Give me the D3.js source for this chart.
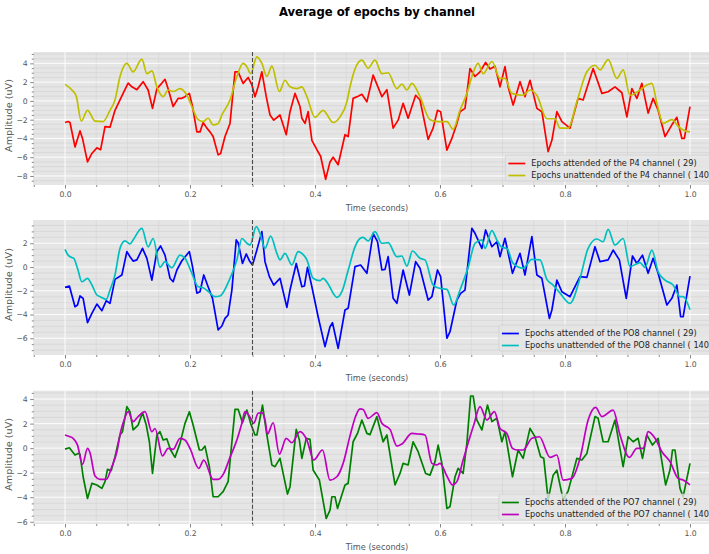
<!DOCTYPE html>
<html>
<head>
<meta charset="utf-8">
<script src="https://cdn.jsdelivr.net/npm/d3@7/dist/d3.min.js"></script>
<style>
  html, body { margin: 0; padding: 0; background: #fff; }
  svg { display: block; font-family: "DejaVu Sans", sans-serif; }
</style>
</head>
<body>
<svg id="chart" width="709" height="554"></svg>
<script>
// Averaged ERP epochs, [time (s), amplitude (uV)]
const p4Attended = [[0,-2.3],[0.005,-2.2],[0.008,-2.3],[0.016,-4.9],[0.024,-3.2],[0.028,-4.0],[0.036,-6.5],[0.043,-5.6],[0.051,-5.0],[0.057,-5.2],[0.064,-2.75],[0.072,-2.8],[0.08,-1.0],[0.088,0.1],[0.093,0.8],[0.101,1.9],[0.107,1.5],[0.115,1.2],[0.125,2.05],[0.133,1.16],[0.14,-0.8],[0.147,1.3],[0.155,1.9],[0.16,2.3],[0.165,1.3],[0.173,-0.6],[0.181,0.27],[0.187,0.27],[0.192,0.45],[0.199,0.8],[0.204,-0.6],[0.211,-3.3],[0.216,-3.3],[0.221,-2.3],[0.227,-2.9],[0.232,-3.3],[0.237,-3.8],[0.245,-5.75],[0.249,-5.6],[0.256,-3.8],[0.264,-2.4],[0.272,3.1],[0.277,3.1],[0.285,1.87],[0.293,2.5],[0.299,1.7],[0.304,0.45],[0.309,1.5],[0.315,3.1],[0.322,0.45],[0.328,-1.5],[0.334,-2.05],[0.344,-1.5],[0.354,-3.6],[0.36,-1.15],[0.368,0.8],[0.376,-0.6],[0.379,-1.85],[0.384,-2.4],[0.389,-1.15],[0.395,-4.2],[0.403,-5.2],[0.409,-5.9],[0.417,-8.35],[0.424,-6.5],[0.429,-6.0],[0.437,-6.8],[0.448,-3.6],[0.453,-3.8],[0.461,0.27],[0.469,0.5],[0.475,0.7],[0.483,-0.1],[0.493,2.75],[0.507,0.45],[0.515,1.2],[0.525,-2.9],[0.533,-2.05],[0.541,-0.25],[0.549,-1.85],[0.561,0.6],[0.568,0.1],[0.581,-4.1],[0.589,-2.9],[0.596,-1.0],[0.601,-1.15],[0.611,-5.25],[0.619,-4.0],[0.627,-2.4],[0.632,-1.15],[0.64,-0.8],[0.648,3.45],[0.656,2.6],[0.664,3.1],[0.673,4.1],[0.68,3.4],[0.688,3.7],[0.696,1.5],[0.704,3.65],[0.709,1.5],[0.717,-0.45],[0.728,2.05],[0.736,0.45],[0.744,2.2],[0.755,-0.8],[0.763,-1.15],[0.773,-5.4],[0.779,-4.2],[0.787,-1.15],[0.795,-2.2],[0.808,-2.9],[0.821,0.27],[0.829,0.1],[0.845,3.45],[0.859,0.8],[0.869,0.98],[0.88,1.5],[0.891,0.87],[0.899,-1.7],[0.907,1.3],[0.915,0.27],[0.923,1.87],[0.933,-1.3],[0.941,0.27],[0.949,-1.0],[0.96,-3.8],[0.971,-2.55],[0.979,-1.75],[0.987,-4.0],[0.991,-4.0],[1.0,-0.6]];

const p4Unattended = [[0,1.76],[0.011,1.16],[0.018,0.5],[0.026,-2.15],[0.036,-1.0],[0.048,-2.15],[0.061,-2.2],[0.072,-1.0],[0.08,0.1],[0.088,2.6],[0.099,4.0],[0.109,3.1],[0.123,4.45],[0.131,2.9],[0.139,3.2],[0.147,1.5],[0.157,0.45],[0.165,1.16],[0.173,1.0],[0.184,1.3],[0.195,0.6],[0.203,-0.6],[0.213,-2.0],[0.221,-2.2],[0.229,-1.85],[0.237,-2.55],[0.245,-2.4],[0.251,-1.5],[0.264,0.1],[0.275,2.6],[0.285,4.0],[0.291,3.65],[0.297,2.9],[0.307,4.7],[0.315,4.0],[0.323,2.6],[0.331,3.7],[0.343,1.0],[0.352,2.2],[0.36,1.5],[0.371,1.3],[0.379,1.5],[0.387,0.45],[0.4,-1.75],[0.413,-1.0],[0.429,-2.3],[0.44,-1.7],[0.451,-0.1],[0.456,1.5],[0.464,3.4],[0.475,4.35],[0.485,3.5],[0.496,4.35],[0.507,2.9],[0.517,3.0],[0.531,1.3],[0.539,1.8],[0.547,1.16],[0.555,1.87],[0.568,0.45],[0.584,-2.0],[0.597,-2.2],[0.611,-2.2],[0.621,-3.0],[0.632,-1.0],[0.643,0.8],[0.652,2.8],[0.661,4.0],[0.669,2.9],[0.683,4.2],[0.696,2.4],[0.704,2.4],[0.715,0.8],[0.733,0.6],[0.744,1.16],[0.755,0.6],[0.771,-1.9],[0.784,-1.9],[0.792,-2.9],[0.805,-2.9],[0.819,-0.1],[0.835,3.1],[0.848,3.8],[0.856,3.3],[0.869,4.4],[0.883,2.4],[0.893,3.3],[0.904,0.6],[0.92,1.16],[0.931,1.7],[0.939,1.87],[0.947,-0.25],[0.957,-2.4],[0.971,-2.0],[0.981,-2.7],[0.989,-3.1],[1.0,-3.3]];

const po8Attended = [[0,-1.71],[0.007,-1.6],[0.016,-3.34],[0.02,-3.2],[0.024,-2.44],[0.029,-2.64],[0.036,-4.69],[0.043,-3.9],[0.051,-3.12],[0.059,-3.68],[0.066,-2.84],[0.072,-3.06],[0.08,-1.04],[0.091,-0.67],[0.099,1.3],[0.104,0.87],[0.109,0.5],[0.115,0.6],[0.124,1.57],[0.131,0.73],[0.139,-1.1],[0.147,1.3],[0.153,1.77],[0.16,1.0],[0.168,-0.95],[0.173,-1.24],[0.179,-0.25],[0.187,0.53],[0.199,1.3],[0.204,0.03],[0.211,-2.2],[0.216,-2.08],[0.222,-0.67],[0.229,-1.66],[0.236,-2.64],[0.245,-5.3],[0.251,-4.97],[0.256,-4.33],[0.261,-4.04],[0.267,-1.94],[0.274,2.28],[0.277,2.05],[0.284,0.3],[0.29,1.1],[0.295,0.53],[0.3,0.17],[0.307,1.43],[0.315,2.98],[0.32,0.45],[0.327,-0.81],[0.334,-1.52],[0.344,-0.95],[0.355,-3.4],[0.36,-1.94],[0.37,0.3],[0.379,-1.66],[0.383,-1.6],[0.388,-0.03],[0.395,-1.66],[0.405,-4.19],[0.416,-6.7],[0.424,-5.03],[0.428,-4.69],[0.437,-6.85],[0.448,-3.62],[0.453,-3.48],[0.464,0.03],[0.473,0.17],[0.483,-0.53],[0.493,2.84],[0.5,2.13],[0.507,-0.25],[0.512,-0.2],[0.517,0.87],[0.525,-2.64],[0.531,-3.06],[0.541,-0.25],[0.551,-2.36],[0.561,0.45],[0.568,-0.1],[0.581,-2.78],[0.587,-2.5],[0.596,-0.25],[0.601,-0.81],[0.611,-6.0],[0.616,-5.45],[0.627,-2.78],[0.633,-2.22],[0.64,-1.94],[0.651,3.26],[0.656,2.84],[0.667,1.57],[0.673,3.12],[0.683,1.71],[0.691,2.13],[0.696,0.87],[0.704,2.42],[0.716,-0.53],[0.728,1.15],[0.736,-0.67],[0.747,2.56],[0.755,-0.67],[0.763,-0.95],[0.775,-4.33],[0.779,-3.62],[0.787,-1.1],[0.795,-2.08],[0.808,-2.5],[0.824,-0.81],[0.835,-0.87],[0.848,1.71],[0.856,0.45],[0.869,0.6],[0.877,1.43],[0.887,0.6],[0.898,-2.64],[0.908,0.93],[0.915,0.3],[0.924,1.0],[0.933,-0.53],[0.941,0.73],[0.949,-0.53],[0.963,-3.2],[0.971,-2.64],[0.979,-1.52],[0.985,-4.19],[0.989,-4.19],[1.0,-0.76]];

const po8Unattended = [[0,1.49],[0.005,1.0],[0.011,0.8],[0.014,0.73],[0.02,-0.1],[0.027,-1.24],[0.036,-0.95],[0.043,-1.5],[0.051,-2.36],[0.056,-2.5],[0.066,-2.72],[0.072,-1.94],[0.08,-0.67],[0.088,1.57],[0.096,2.2],[0.104,1.94],[0.109,2.28],[0.123,3.26],[0.133,1.7],[0.141,2.4],[0.152,-0.03],[0.16,0.45],[0.171,-0.06],[0.184,1.0],[0.192,0.73],[0.203,-0.53],[0.213,-1.66],[0.221,-1.74],[0.232,-2.2],[0.24,-2.5],[0.248,-2.44],[0.264,-0.95],[0.275,0.6],[0.283,2.4],[0.291,2.0],[0.296,1.85],[0.306,3.4],[0.312,2.84],[0.32,1.57],[0.329,2.6],[0.339,1.15],[0.344,0.6],[0.352,1.15],[0.363,0.17],[0.373,1.3],[0.379,1.15],[0.387,0.6],[0.397,-0.95],[0.408,-1.15],[0.413,-0.95],[0.421,-1.43],[0.429,-2.2],[0.435,-2.56],[0.443,-2.08],[0.453,-0.3],[0.464,1.7],[0.472,2.4],[0.477,2.5],[0.485,2.2],[0.496,2.98],[0.507,2.0],[0.517,2.05],[0.531,0.87],[0.539,0.93],[0.547,0.08],[0.556,1.35],[0.568,0.73],[0.576,0.6],[0.589,-1.52],[0.6,-1.8],[0.611,-1.88],[0.622,-3.2],[0.632,-1.94],[0.645,-0.03],[0.656,2.0],[0.667,2.28],[0.672,1.57],[0.683,3.06],[0.691,2.28],[0.699,1.66],[0.707,1.57],[0.717,0.3],[0.733,-0.1],[0.747,0.65],[0.76,0.6],[0.771,-1.04],[0.781,-1.52],[0.792,-2.2],[0.808,-3.06],[0.824,-0.95],[0.837,1.57],[0.851,2.36],[0.861,2.13],[0.869,3.17],[0.88,1.85],[0.893,2.4],[0.904,0.03],[0.92,0.37],[0.928,-0.03],[0.939,1.43],[0.949,-0.4],[0.96,-1.1],[0.973,-1.52],[0.984,-2.5],[0.989,-2.5],[1.0,-3.6]];

const po7Attended = [[0,-0.08],[0.007,0.03],[0.016,-0.56],[0.021,-0.43],[0.024,-0.5],[0.029,-2.33],[0.036,-4.1],[0.043,-2.87],[0.051,-3.0],[0.059,-3.28],[0.064,-2.73],[0.068,-1.73],[0.074,-1.83],[0.08,-0.7],[0.088,1.07],[0.092,1.34],[0.099,3.38],[0.104,2.97],[0.109,1.48],[0.117,1.88],[0.124,2.89],[0.13,1.88],[0.135,0.52],[0.14,-2.06],[0.147,1.07],[0.152,1.34],[0.157,0.66],[0.163,0.75],[0.169,-0.15],[0.176,-0.75],[0.184,0.39],[0.192,2.02],[0.199,2.97],[0.205,1.88],[0.215,-0.15],[0.219,-0.15],[0.224,0.17],[0.231,-1.51],[0.237,-3.96],[0.245,-3.96],[0.253,-3.55],[0.261,-2.73],[0.272,3.16],[0.277,3.16],[0.284,2.07],[0.291,3.1],[0.297,2.02],[0.304,1.07],[0.307,1.07],[0.316,3.51],[0.323,1.07],[0.331,-1.37],[0.336,-1.51],[0.344,-0.83],[0.356,-3.74],[0.36,-3.14],[0.37,1.53],[0.375,0.66],[0.379,-0.83],[0.386,0.8],[0.392,0.72],[0.397,-1.78],[0.407,-2.6],[0.418,-5.73],[0.424,-5.05],[0.427,-3.96],[0.432,-3.96],[0.436,-4.91],[0.448,-3.0],[0.453,-2.87],[0.461,0.52],[0.468,1.2],[0.475,2.29],[0.483,1.2],[0.488,1.1],[0.499,2.57],[0.509,0.52],[0.515,1.07],[0.528,-3.0],[0.536,-2.06],[0.541,-1.24],[0.549,-1.37],[0.557,0.52],[0.565,-0.29],[0.577,-2.06],[0.584,-2.2],[0.592,-1.1],[0.597,0.25],[0.603,-1.24],[0.611,-4.91],[0.616,-4.77],[0.624,-2.33],[0.629,-1.65],[0.637,-2.06],[0.643,0.39],[0.649,4.25],[0.653,4.25],[0.659,2.29],[0.667,1.48],[0.676,3.51],[0.683,2.16],[0.691,2.43],[0.699,0.52],[0.704,1.34],[0.716,-2.33],[0.725,-0.15],[0.733,-0.83],[0.744,1.61],[0.752,0.93],[0.761,-0.7],[0.766,-0.83],[0.773,-4.2],[0.781,-2.2],[0.787,-1.8],[0.797,-4.2],[0.805,-3.5],[0.819,-0.83],[0.827,-0.97],[0.835,-0.43],[0.848,2.57],[0.853,2.43],[0.861,0.52],[0.869,0.52],[0.88,2.29],[0.893,-1.51],[0.901,0.93],[0.909,0.52],[0.917,0.8],[0.924,-0.83],[0.931,1.07],[0.94,0.25],[0.949,0.8],[0.961,-3.0],[0.968,-1.78],[0.972,-0.15],[0.976,-0.15],[0.984,-3.28],[0.989,-3.96],[1.0,-1.24]];

const po7Unattended = [[0,1.07],[0.008,0.93],[0.013,0.8],[0.02,0.25],[0.028,-1.32],[0.036,-0.02],[0.04,-0.37],[0.048,-2.27],[0.056,-2.54],[0.066,-2.54],[0.075,-1.5],[0.083,-0.29],[0.089,1.34],[0.094,2.2],[0.101,2.97],[0.109,2.16],[0.117,2.57],[0.128,2.97],[0.139,1.34],[0.144,1.6],[0.156,-0.64],[0.165,-0.02],[0.173,-0.1],[0.184,0.8],[0.192,0.66],[0.2,-0.02],[0.214,-1.65],[0.222,-0.97],[0.237,-2.54],[0.245,-2.54],[0.254,-2.05],[0.264,-0.75],[0.275,0.66],[0.283,2.02],[0.288,2.97],[0.297,2.43],[0.302,2.02],[0.309,2.84],[0.315,2.89],[0.32,2.3],[0.324,1.15],[0.333,2.07],[0.343,-0.48],[0.354,0.8],[0.363,0.44],[0.376,1.34],[0.387,0.66],[0.398,-0.97],[0.412,-0.15],[0.424,-2.6],[0.435,-2.33],[0.445,-1.24],[0.456,1.0],[0.465,2.6],[0.472,3.2],[0.477,3.15],[0.485,2.43],[0.499,2.89],[0.507,2.02],[0.52,1.53],[0.531,0.17],[0.539,0.33],[0.555,1.2],[0.565,1.15],[0.576,1.07],[0.587,-1.24],[0.595,-1.37],[0.6,-1.24],[0.611,-2.27],[0.62,-3.0],[0.627,-2.73],[0.637,-0.97],[0.648,0.93],[0.654,1.88],[0.664,3.38],[0.675,2.29],[0.687,2.97],[0.696,1.61],[0.707,1.2],[0.716,-0.02],[0.723,-0.15],[0.733,-0.15],[0.747,0.8],[0.759,0.93],[0.776,-0.75],[0.787,-0.56],[0.797,-2.6],[0.811,-2.46],[0.824,-0.83],[0.837,2.29],[0.849,3.32],[0.859,2.57],[0.877,3.1],[0.888,1.07],[0.903,-0.75],[0.915,-0.02],[0.925,-0.02],[0.933,1.34],[0.944,0.8],[0.955,-0.29],[0.968,-1.1],[0.981,-2.46],[0.989,-2.6],[1.0,-3.0]];

const channels = ["P4", "PO8", "PO7"];
const attendedCounts = [29, 29, 29];
const unattendedCounts = [140, 140, 140];
const xTicks = [0.0, 0.2, 0.4, 0.6, 0.8, 1.0];
const yTicksP4 = [-8, -6, -4, -2, 0, 2, 4];
const yTicksPO8 = [-6, -4, -2, 0, 2];
const yTicksPO7 = [-6, -4, -2, 0, 2, 4];
const stimulusTime = 0.3;

// Layout for each subplot
const panels = [
  { top: 52,  bottom: 185, ydom: [-8.96, 5.21], yTicks: yTicksP4,  att: p4Attended,  un: p4Unattended,  cA: "#ff0000", cU: "#bfbf00" },
  { top: 220, bottom: 355, ydom: [-7.41, 3.96], yTicks: yTicksPO8, att: po8Attended, un: po8Unattended, cA: "#0000ff", cU: "#00bfbf" },
  { top: 390.7, bottom: 524, ydom: [-6.18, 4.68], yTicks: yTicksPO7, att: po7Attended, un: po7Unattended, cA: "#008000", cU: "#bf00bf" }
];

const svg = d3.select("#chart");
const x = d3.scaleLinear().domain([-0.05, 1.05]).range([33.75, 721.25]);
const tickColor = "#555555";
const fmtY = d => d < 0 ? "\u2212" + Math.abs(d) : String(d);

svg.append("text")
  .attr("x", 377).attr("y", 16)
  .attr("text-anchor", "middle")
  .attr("font-size", 11.6).attr("font-weight", "bold").attr("fill", "#000")
  .text("Average of epochs by channel");

panels.forEach((p, i) => {
  const y = d3.scaleLinear().domain(p.ydom).range([p.bottom, p.top]);
  const [x0, x1] = x.range();
  const g = svg.append("g");
  const clipId = "clip" + i;
  g.append("clipPath").attr("id", clipId)
    .append("rect").attr("x", x0).attr("y", p.top).attr("width", x1 - x0).attr("height", p.bottom - p.top);

  g.append("rect").attr("x", x0).attr("y", p.top).attr("width", x1 - x0).attr("height", p.bottom - p.top)
    .attr("fill", "#e5e5e5");

  // minor grid
  const xMinor = d3.range(-20, 22).map(k => k * 0.05).filter(v => v >= -0.05 && v <= 1.05 && Math.abs(v / 0.2 - Math.round(v / 0.2)) > 1e-6);
  const yMinor = d3.range(Math.ceil(p.ydom[0] * 2), Math.floor(p.ydom[1] * 2) + 1).map(k => k / 2).filter(v => Math.abs(v / 2 - Math.round(v / 2)) > 1e-6);
  g.selectAll(".gxm").data(xMinor).join("line")
    .attr("x1", d => x(d)).attr("x2", d => x(d)).attr("y1", p.top).attr("y2", p.bottom)
    .attr("stroke", "#d2d2d2").attr("stroke-width", 0.6);
  g.selectAll(".gym").data(yMinor).join("line")
    .attr("x1", x0).attr("x2", x1).attr("y1", d => y(d)).attr("y2", d => y(d))
    .attr("stroke", "#d4d4d4").attr("stroke-width", 0.7);
  // major grid
  g.selectAll(".gx").data(xTicks).join("line")
    .attr("x1", d => x(d)).attr("x2", d => x(d)).attr("y1", p.top).attr("y2", p.bottom)
    .attr("stroke", "#ffffff").attr("stroke-width", 0.9);
  g.selectAll(".gy").data(p.yTicks).join("line")
    .attr("x1", x0).attr("x2", x1).attr("y1", d => y(d)).attr("y2", d => y(d))
    .attr("stroke", "#ffffff").attr("stroke-width", 0.9);

  // axes
  const ax = g.append("g").attr("transform", `translate(0,${p.bottom})`)
    .call(d3.axisBottom(x).tickValues(xTicks).tickFormat(d3.format(".1f")).tickSize(3.5).tickPadding(3));
  const axm = g.append("g").attr("transform", `translate(0,${p.bottom})`)
    .call(d3.axisBottom(x).tickValues(xMinor).tickFormat("").tickSize(2));
  const ay = g.append("g").attr("transform", `translate(${x0},0)`)
    .call(d3.axisLeft(y).tickValues(p.yTicks).tickFormat(fmtY).tickSize(3.5).tickPadding(2.5));
  const aym = g.append("g").attr("transform", `translate(${x0},0)`)
    .call(d3.axisLeft(y).tickValues(yMinor).tickFormat("").tickSize(2));
  [ax, axm, ay, aym].forEach(a => {
    a.select(".domain").remove();
    a.selectAll("line").attr("stroke", tickColor).attr("stroke-width", 0.7);
    a.selectAll("text").attr("fill", tickColor).attr("font-size", 7.7).attr("font-family", "DejaVu Sans");
  });

  // axis labels
  g.append("text")
    .attr("x", 377).attr("y", p.bottom + 26)
    .attr("text-anchor", "middle").attr("font-size", 8.2).attr("fill", tickColor)
    .text("Time (seconds)");
  g.append("text")
    .attr("transform", `translate(11.5,${(p.top + p.bottom) / 2 - 3}) rotate(-90) scale(1.18,1)`)
    .attr("text-anchor", "middle").attr("font-size", 8.2).attr("fill", tickColor)
    .text("Amplitude (uV)");

  // traces
  const plot = g.append("g").attr("clip-path", `url(#${clipId})`);
  const lineA = d3.line().x(d => x(d[0])).y(d => y(d[1])).curve(d3.curveLinear);
  const lineU = d3.line().x(d => x(d[0])).y(d => y(d[1])).curve(d3.curveMonotoneX);
  plot.append("path").datum(p.att).attr("d", lineA)
    .attr("fill", "none").attr("stroke", p.cA).attr("stroke-width", 1.7).attr("stroke-linejoin", "round");
  plot.append("path").datum(p.un).attr("d", lineU)
    .attr("fill", "none").attr("stroke", p.cU).attr("stroke-width", 1.7).attr("stroke-linejoin", "round");

  // stimulus onset marker
  plot.append("line")
    .attr("x1", x(stimulusTime)).attr("x2", x(stimulusTime)).attr("y1", p.top).attr("y2", p.bottom)
    .attr("stroke", "#4a4a4a").attr("stroke-width", 1.1).attr("stroke-dasharray", "4,2");

  // legend (anchored lower right)
  const labels = [
    { text: `Epochs attended of the ${channels[i]} channel ( ${attendedCounts[i]})`, color: p.cA },
    { text: `Epochs unattended of the ${channels[i]} channel ( ${unattendedCounts[i]})`, color: p.cU }
  ];
  const leg = g.append("g");
  const box = leg.append("rect");
  const rowH = 12;
  const legBottom = p.bottom - 4;
  const legTop = legBottom - 26;
  const texts = labels.map((l, k) => leg.append("text")
    .attr("y", legTop + 8.5 + k * rowH).attr("dy", "0.35em")
    .attr("font-size", 8.2).attr("fill", "#222").text(l.text));
  const tw = d3.max(texts, t => t.node().getComputedTextLength());
  const legRight = x1 - 5;
  const legLeft = legRight - (tw + 30);
  box.attr("x", legLeft).attr("y", legTop).attr("width", legRight - legLeft).attr("height", legBottom - legTop)
    .attr("rx", 2).attr("fill", "#e5e5e5").attr("fill-opacity", 0.8)
    .attr("stroke", "#cccccc").attr("stroke-opacity", 0.8).attr("stroke-width", 0.8);
  texts.forEach(t => t.attr("x", legLeft + 26));
  labels.forEach((l, k) => {
    leg.append("line")
      .attr("x1", legLeft + 3).attr("x2", legLeft + 20)
      .attr("y1", legTop + 8.5 + k * rowH).attr("y2", legTop + 8.5 + k * rowH)
      .attr("stroke", l.color).attr("stroke-width", 1.7);
  });
});
</script>
</body>
</html>
